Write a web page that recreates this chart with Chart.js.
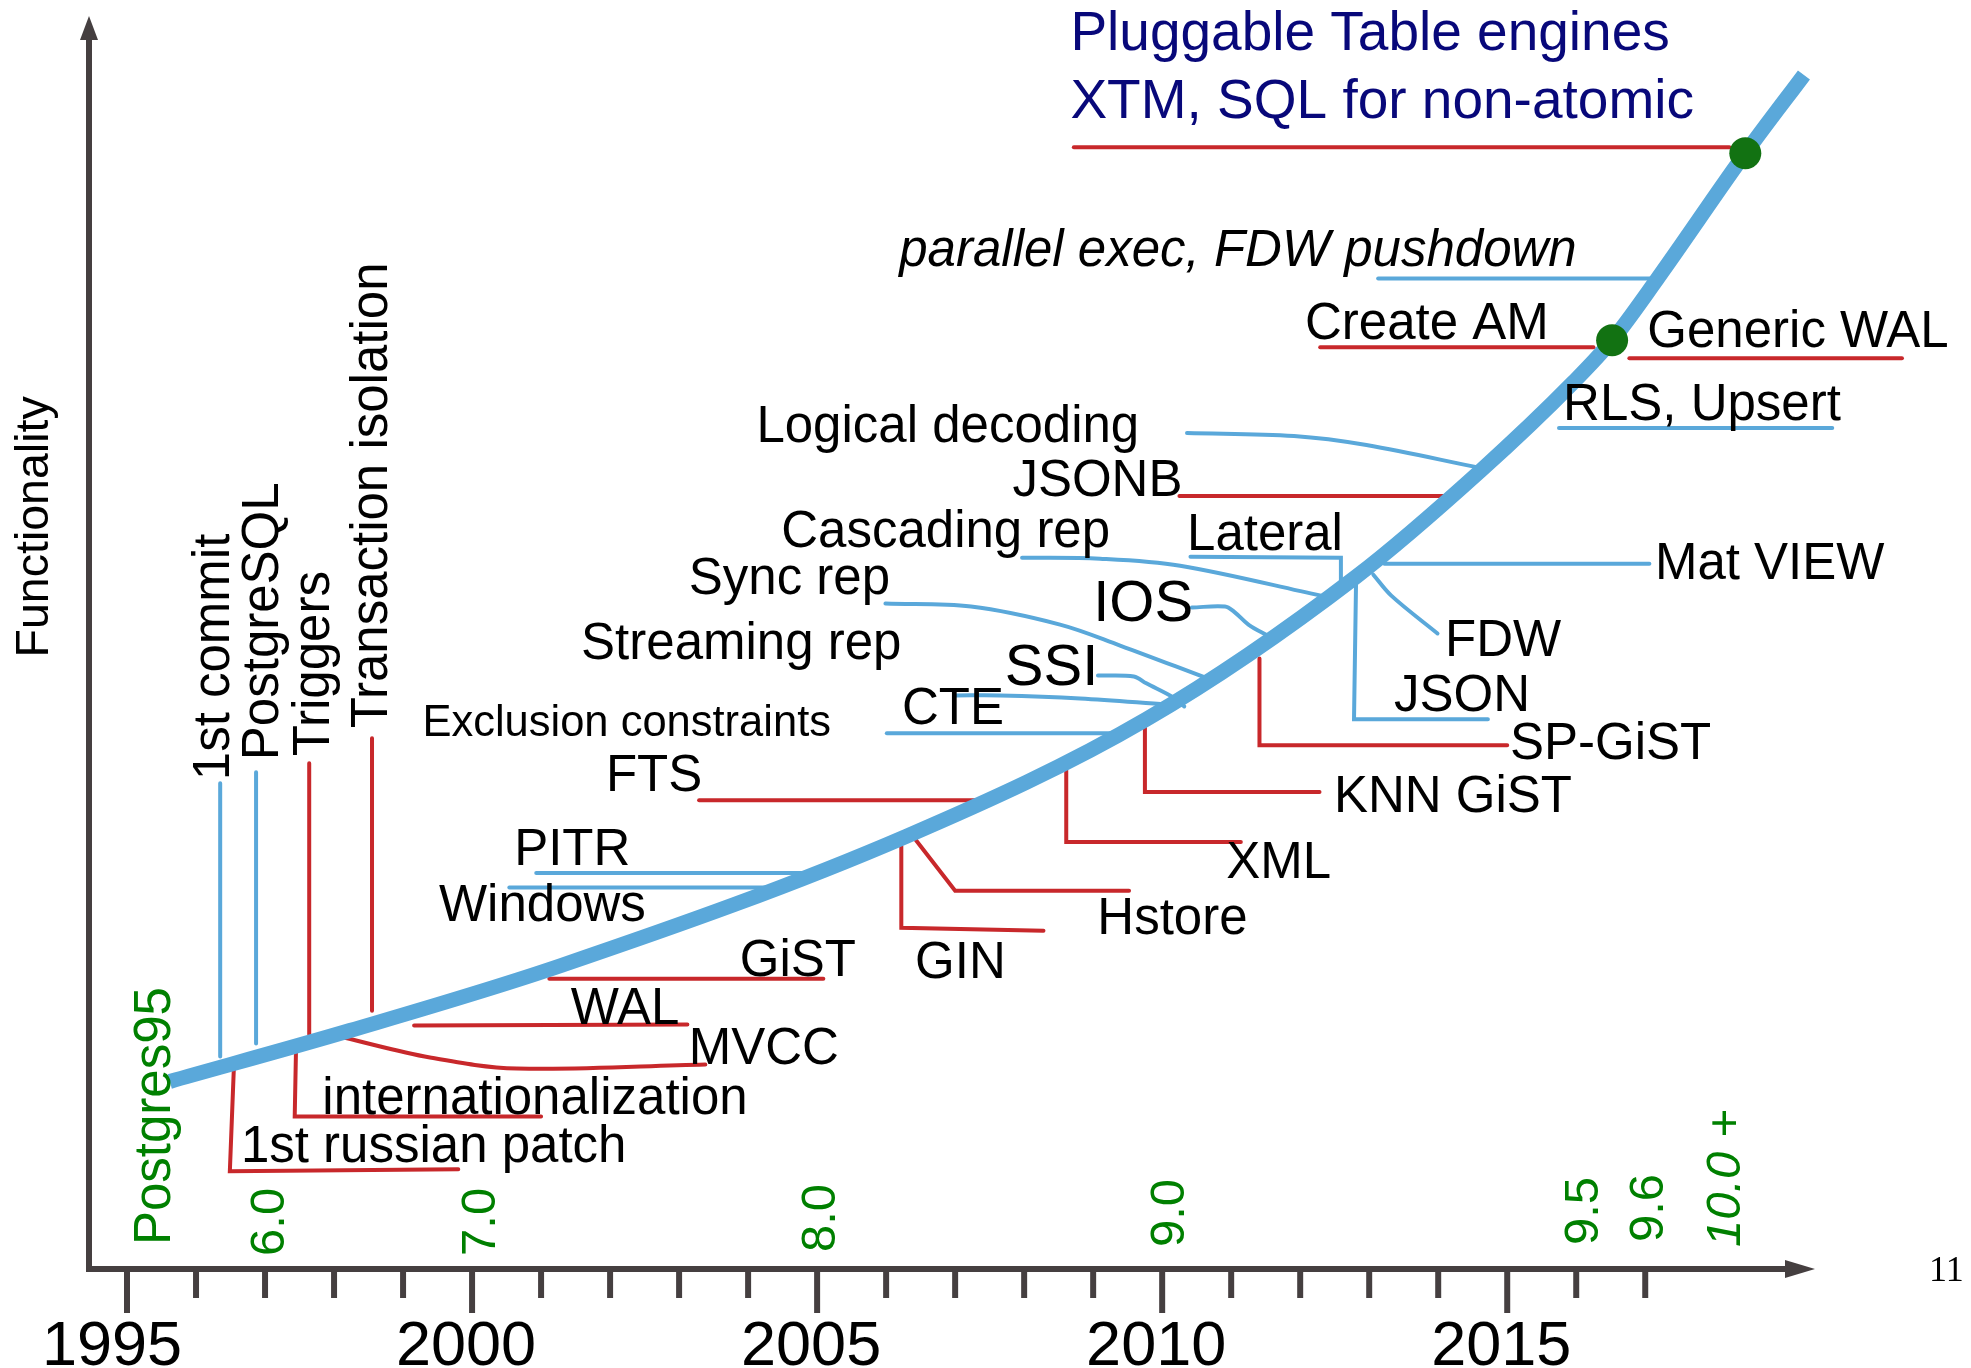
<!DOCTYPE html>
<html>
<head>
<meta charset="utf-8">
<script src="https://cdn.jsdelivr.net/npm/chart.js@4.4.1/dist/chart.umd.min.js"></script>
<style>
  html, body { margin: 0; padding: 0; background: #fff; }
</style>
</head>
<body>
<canvas id="timeline" width="1971" height="1368"></canvas>
<script>
// --- data (x = year, y = "functionality" 0..100) ---

var yearMin = 1994.449, yearMax = 2019.46;
var firstTickYear = 1995, lastTickYear = 2017;
var yearLabels = ['1995', '2000', '2005', '2010', '2015'];

// main growth curve
var curveYears  = [1995.62, 1998.23, 2001.28, 2006.30, 2009.77, 2012.81, 2014.61, 2015.96, 2016.52, 2017.17, 2018.45, 2019.30];
var curveLevels = [14.97, 19.03, 24.20, 34.55, 43.87, 55.25, 63.69, 70.78, 74.12, 78.98, 89.05, 95.30];

// green release dots
var dotYears  = [2016.52, 2018.45];
var dotLevels = [74.12, 89.05];

// blue connectors
var blueLeaders = [
  { name: '1st commit', pts: [[1996.35, 38.77], [1996.35, 16.96]] },
  { name: 'PostgreSQL', pts: [[1996.87, 39.65], [1996.87, 17.99]] },
  { name: 'PITR', pts: [[2000.93, 31.61], [2004.90, 31.61]] },
  { name: 'Windows', pts: [[2000.54, 30.45], [2004.41, 30.45]] },
  { name: 'CTE', pts: [[2006.01, 42.75], [2009.35, 42.75]] },
  { name: 'CTE2', pts: [[2007.01, 45.78], [2007.65, 45.78], [2008.81, 45.54], [2010.06, 45.06]] },
  { name: 'SSI', pts: [[2009.07, 47.37], [2009.59, 47.29], [2009.77, 46.74], [2010.16, 45.62], [2010.32, 44.90]] },
  { name: 'Sync rep', pts: [[2005.99, 53.11], [2007.23, 52.87], [2008.52, 51.43], [2009.39, 49.76], [2010.62, 47.21]] },
  { name: 'IOS', pts: [[2010.43, 52.79], [2010.91, 52.87], [2011.04, 52.47], [2011.25, 51.43], [2011.55, 50.48]] },
  { name: 'Cascading rep', pts: [[2007.97, 56.77], [2009.10, 56.69], [2010.26, 56.13], [2012.30, 53.74]] },
  { name: 'Lateral', pts: [[2010.41, 56.85], [2012.59, 56.77], [2012.59, 54.46]] },
  { name: 'JSON', pts: [[2012.81, 55.02], [2012.78, 43.87], [2014.72, 43.87]] },
  { name: 'FDW', pts: [[2013.06, 55.41], [2013.32, 53.74], [2013.99, 50.72]] },
  { name: 'Mat VIEW', pts: [[2013.22, 56.29], [2017.06, 56.29]] },
  { name: 'Logical decoding', pts: [[2010.36, 66.72], [2011.91, 66.48], [2012.96, 65.76], [2014.61, 63.93]] },
  { name: 'RLS, Upsert', pts: [[2015.75, 67.12], [2019.71, 67.12]] },
  { name: 'parallel exec', pts: [[2013.13, 79.06], [2017.09, 79.06]] }
];

// red connectors
var redLeaders = [
  { name: 'Triggers', pts: [[1997.64, 40.37], [1997.64, 18.71]] },
  { name: 'Transaction isolation', pts: [[1998.55, 42.36], [1998.55, 20.62]] },
  { name: '1st russian patch', pts: [[1996.55, 16.32], [1996.49, 7.80], [1999.80, 7.96]] },
  { name: 'internationalization', pts: [[1997.45, 17.91], [1997.43, 12.18], [2001.00, 12.18]] },
  { name: 'MVCC', pts: [[1998.14, 18.47], [1999.39, 16.88], [2000.65, 16.00], [2003.38, 16.32]] },
  { name: 'WAL', pts: [[1999.16, 19.43], [2003.12, 19.51]] },
  { name: 'GiST', pts: [[2001.12, 23.17], [2005.09, 23.17]] },
  { name: 'FTS', pts: [[2003.29, 37.42], [2007.38, 37.42]] },
  { name: 'GIN', pts: [[2006.22, 33.76], [2006.22, 27.23], [2008.28, 26.99]] },
  { name: 'Hstore', pts: [[2006.43, 34.24], [2007.00, 30.18], [2009.52, 30.18]] },
  { name: 'XML', pts: [[2008.61, 39.81], [2008.61, 34.08], [2011.14, 34.08]] },
  { name: 'KNN GiST', pts: [[2009.75, 43.79], [2009.75, 38.06], [2012.28, 38.06]] },
  { name: 'SP-GiST', pts: [[2011.41, 48.73], [2011.41, 41.80], [2015.00, 41.80]] },
  { name: 'JSONB', pts: [[2010.25, 61.70], [2014.19, 61.70]] },
  { name: 'Create AM', pts: [[2012.29, 73.57], [2016.25, 73.57]] },
  { name: 'Generic WAL', pts: [[2016.77, 72.69], [2020.72, 72.69]] },
  { name: 'Pluggable', pts: [[2008.72, 89.53], [2018.22, 89.53]] }
];
var smoothLeaders = ['CTE2', 'SSI', 'Sync rep', 'IOS', 'Cascading rep', 'FDW', 'Logical decoding', 'MVCC'];

// horizontal feature labels (left edge, baseline)
var featureNames = ['Pluggable Table engines', 'XTM, SQL for non-atomic', 'parallel exec, FDW pushdown',
  'Create AM', 'Generic WAL', 'RLS, Upsert', 'Logical decoding', 'JSONB', 'Cascading rep', 'Lateral',
  'Mat VIEW', 'Sync rep', 'IOS', 'FDW', 'Streaming rep', 'SSI', 'JSON', 'CTE', 'Exclusion constraints',
  'SP-GiST', 'FTS', 'KNN GiST', 'PITR', 'XML', 'Windows', 'Hstore', 'GiST', 'GIN', 'WAL', 'MVCC',
  'internationalization', '1st russian patch'];
var featureYears = [2008.67, 2008.67, 2006.19, 2012.07, 2017.03, 2015.81, 2004.12, 2007.83, 2004.48, 2010.36,
  2017.14, 2003.14, 2009.00, 2014.10, 2001.58, 2007.72, 2013.36, 2006.23, 1999.28,
  2015.04, 2001.94, 2012.49, 2000.61, 2010.93, 1999.52, 2009.06, 2003.88, 2006.42, 2001.43, 2003.14,
  1997.83, 1996.65];
var featureLevels = [97.29, 91.88, 80.02, 74.20, 73.57, 67.75, 66.00, 61.70, 57.64, 57.40,
  55.10, 53.90, 51.75, 48.96, 48.65, 46.58, 44.51, 43.47, 42.52,
  40.68, 38.14, 36.46, 32.25, 31.21, 27.79, 26.75, 23.41, 23.25, 19.59, 16.40,
  12.34, 8.52];

// vertical labels (baseline x, start of text at the bottom)
var verticalNames  = ['1st commit', 'PostgreSQL', 'Triggers', 'Transaction isolation', 'Functionality'];
var verticalYears  = [1996.48, 1997.19, 1997.93, 1998.77, 1993.86];
var verticalLevels = [39.01, 40.61, 40.92, 43.15, 48.81];

// release versions
var versionNames  = ['Postgres95', '6.0', '7.0', '8.0', '9.0', '9.5', '9.6', '10.0 +'];
var versionYears  = [1995.62, 1997.28, 2000.33, 2005.26, 2010.32, 2016.32, 2017.26, 2018.38];
var versionLevels = [1.91, 1.04, 1.04, 1.35, 1.75, 1.91, 2.15, 1.75];

// --- styles ---
var BLUE = '#5aa8da', RED = '#c8282b', AXIS = '#453f40', GREEN = '#008000', DOT = '#127212', NAVY = '#08087a';
var FONT = '"Liberation Sans", Arial, sans-serif';
var bigNames = ['IOS', 'SSI'];
var smallNames = ['Exclusion constraints'];
var titleNames = ['Pluggable Table engines', 'XTM, SQL for non-atomic'];
var italicNames = ['parallel exec, FDW pushdown'];

function pairsToPoints(pairs) {
  return pairs.map(function (p) { return { x: p[0], y: p[1] }; });
}

function zipPoints(xs, ys) {
  return xs.map(function (x, i) { return { x: x, y: ys[i] }; });
}

var datasets = [];

datasets.push({
  label: 'releases',
  data: zipPoints(dotYears, dotLevels),
  showLine: false,
  pointRadius: 16,
  pointBackgroundColor: DOT,
  pointBorderWidth: 0,
  clip: false,
  order: 0
});

datasets.push({
  label: 'functionality',
  data: zipPoints(curveYears, curveLevels),
  showLine: true,
  borderColor: BLUE,
  borderWidth: 15,
  cubicInterpolationMode: 'monotone',
  pointRadius: 0,
  clip: false,
  order: 1
});

function addLeaders(list, color) {
  list.forEach(function (l) {
    datasets.push({
      label: l.name,
      data: pairsToPoints(l.pts),
      showLine: true,
      borderColor: color,
      borderWidth: 4,
      borderCapStyle: 'round',
      borderJoinStyle: 'miter',
      tension: smoothLeaders.indexOf(l.name) >= 0 ? 0.35 : 0,
      pointRadius: 0,
      clip: false,
      order: 2
    });
  });
}
addLeaders(blueLeaders, BLUE);
addLeaders(redLeaders, RED);

function vText(ctx, text, x, y) {
  ctx.save();
  ctx.translate(x, y);
  ctx.rotate(-Math.PI / 2);
  ctx.fillText(text, 0, 0);
  ctx.restore();
}

var drawings = {
  id: 'drawings',
  beforeDatasetsDraw: function (chart) {
    var ctx = chart.ctx, a = chart.chartArea, xs = chart.scales.x;
    ctx.save();
    ctx.strokeStyle = AXIS;
    ctx.fillStyle = AXIS;
    ctx.lineWidth = 6;

    // y axis with arrow
    ctx.beginPath();
    ctx.moveTo(a.left, a.bottom + 3);
    ctx.lineTo(a.left, a.top + 20);
    ctx.stroke();
    ctx.beginPath();
    ctx.moveTo(a.left, a.top);
    ctx.lineTo(a.left - 9, a.top + 24);
    ctx.lineTo(a.left + 9, a.top + 24);
    ctx.closePath();
    ctx.fill();

    // x axis with arrow
    ctx.beginPath();
    ctx.moveTo(a.left - 3, a.bottom);
    ctx.lineTo(a.right - 26, a.bottom);
    ctx.stroke();
    ctx.beginPath();
    ctx.moveTo(a.right, a.bottom);
    ctx.lineTo(a.right - 30, a.bottom - 9);
    ctx.lineTo(a.right - 30, a.bottom + 9);
    ctx.closePath();
    ctx.fill();

    // year ticks
    for (var yr = firstTickYear; yr <= lastTickYear; yr++) {
      var px = xs.getPixelForValue(yr);
      var len = (yr % 5 === 0) ? 44 : 29;
      ctx.beginPath();
      ctx.moveTo(px, a.bottom);
      ctx.lineTo(px, a.bottom + len);
      ctx.stroke();
    }

    ctx.fillStyle = '#000';
    ctx.font = '63px ' + FONT;
    ctx.textAlign = 'center';
    ctx.textBaseline = 'alphabetic';
    yearLabels.forEach(function (t, i) {
      var shift = i === 0 ? -15 : -6;
      ctx.fillText(t, xs.getPixelForValue(+t) + shift, a.bottom + 96);
    });
    ctx.restore();
  },
  afterDatasetsDraw: function (chart) {
    var ctx = chart.ctx, xs = chart.scales.x, ys = chart.scales.y;
    ctx.save();
    ctx.textAlign = 'left';
    ctx.textBaseline = 'alphabetic';

    featureNames.forEach(function (t, i) {
      var size = 51, style = '', color = '#000';
      if (bigNames.indexOf(t) >= 0) size = 58;
      if (smallNames.indexOf(t) >= 0) size = 43.5;
      if (titleNames.indexOf(t) >= 0) { size = 55; color = NAVY; }
      if (italicNames.indexOf(t) >= 0) { size = 51; style = 'italic '; }
      ctx.font = style + size + 'px ' + FONT;
      ctx.fillStyle = color;
      ctx.fillText(t, xs.getPixelForValue(featureYears[i]), ys.getPixelForValue(featureLevels[i]));
    });

    ctx.fillStyle = '#000';
    verticalNames.forEach(function (t, i) {
      ctx.font = (t === 'Functionality' ? 46.5 : 51) + 'px ' + FONT;
      vText(ctx, t, xs.getPixelForValue(verticalYears[i]), ys.getPixelForValue(verticalLevels[i]));
    });

    ctx.fillStyle = GREEN;
    versionNames.forEach(function (t, i) {
      var size = t === 'Postgres95' ? 51 : 49;
      ctx.font = (t.indexOf('+') >= 0 ? 'italic ' : '') + size + 'px ' + FONT;
      vText(ctx, t, xs.getPixelForValue(versionYears[i]), ys.getPixelForValue(versionLevels[i]));
    });

    // slide number
    ctx.fillStyle = '#000';
    ctx.font = '36px "Liberation Serif", serif';
    ctx.fillText('11', 1929, 1281);
    ctx.restore();
  }
};

var ctx = document.getElementById('timeline').getContext('2d');
var timeline = new Chart(ctx, {
  type: 'scatter',
  data: { datasets: datasets },
  options: {
    responsive: false,
    devicePixelRatio: 1,
    animation: false,
    events: [],
    layout: { padding: { left: 89, right: 156, top: 13, bottom: 99 } },
    scales: {
      x: { type: 'linear', min: yearMin, max: yearMax, display: false },
      y: { type: 'linear', min: 0, max: 100, display: false }
    },
    plugins: { legend: { display: false }, tooltip: { enabled: false } }
  },
  plugins: [drawings]
});
</script>
</body>
</html>
